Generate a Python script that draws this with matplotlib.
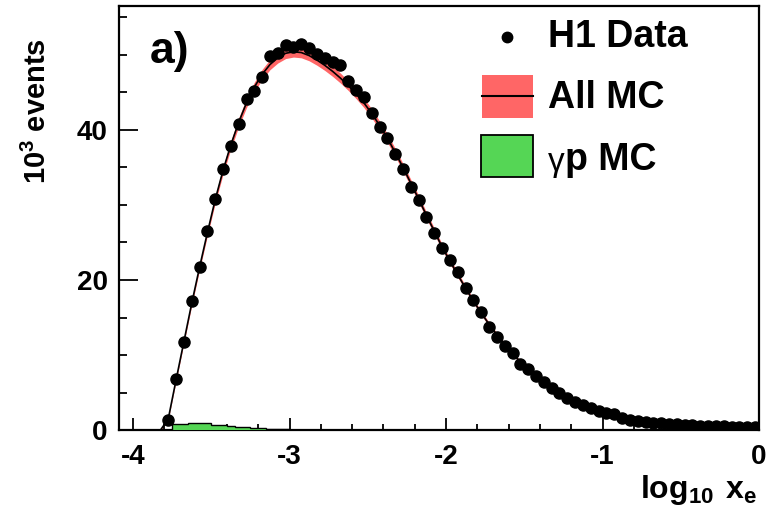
import matplotlib
matplotlib.use("Agg")
import matplotlib.pyplot as plt
import numpy as np
from matplotlib.patches import Rectangle
from matplotlib.ticker import MultipleLocator

plt.rcParams["font.family"] = ["Liberation Sans", "DejaVu Sans"]
plt.rcParams["font.weight"] = "bold"
plt.rcParams["mathtext.fontset"] = "custom"
plt.rcParams["mathtext.rm"] = "Liberation Sans"
plt.rcParams["mathtext.bf"] = "Liberation Sans:bold"
plt.rcParams["mathtext.default"] = "regular"

# binning of log10(x_e): 0.05 wide bins from -3.8 to 0
bin_lo, bin_w, n_bins = -3.8, 0.05, 76

# H1 data, 10^3 events per bin
data_y = [1.4, 6.8, 11.7, 17.2, 21.7, 26.5, 30.8, 34.8, 37.9, 40.8,
          44.1, 45.2, 47.1, 49.8, 50.2, 51.3, 51.1, 51.5, 50.9, 50.1,
          49.6, 49.0, 48.7, 46.5, 45.3, 44.4, 42.2, 40.4, 38.9, 36.8,
          34.8, 32.4, 30.7, 28.4, 26.3, 24.2, 22.7, 21.0, 18.9, 17.3,
          15.7, 13.7, 12.4, 11.2, 10.3, 8.8, 8.2, 7.2, 6.4, 5.6,
          4.9, 4.3, 3.8, 3.3, 2.9, 2.6, 2.3, 2.1, 1.6, 1.4,
          1.2, 1.1, 1.0, 0.9, 0.8, 0.75, 0.7, 0.65, 0.6, 0.55,
          0.5, 0.5, 0.45, 0.45, 0.4, 0.4]

# all MC prediction, same bins
mc_y = [1.5, 6.7, 11.8, 16.9, 21.7, 26.3, 30.7, 34.6, 38.0, 41.0,
        43.6, 45.7, 47.4, 48.7, 49.6, 50.2, 50.4, 50.3, 49.9, 49.3,
        48.6, 47.8, 46.9, 45.9, 44.8, 43.6, 42.2, 40.6, 38.9, 37.0,
        35.0, 32.9, 30.8, 28.6, 26.5, 24.4, 22.5, 20.7, 18.9, 17.2,
        15.6, 14.1, 12.7, 11.4, 10.2, 9.1, 8.1, 7.2, 6.4, 5.6,
        4.9, 4.3, 3.8, 3.3, 2.9, 2.55, 2.25, 2.0, 1.75, 1.55,
        1.35, 1.2, 1.05, 0.95, 0.85, 0.78, 0.7, 0.64, 0.6, 0.55,
        0.52, 0.49, 0.46, 0.44, 0.42, 0.4]
mc_rel_err = 0.012

# photoproduction background MC
gp_lo = -3.75
gp_y = [0.75, 0.8, 0.95, 0.97, 0.97, 0.7, 0.67, 0.58, 0.45, 0.44,
        0.35, 0.25, 0.2, 0.13, 0.1, 0.06, 0.04, 0.03, 0.02]

RED = "#ff6666"
GREEN = "#55d655"

x = bin_lo + bin_w * (np.arange(n_bins) + 0.5)
mc = np.array(mc_y)
mc_x = np.concatenate([[bin_lo - 0.025], x])
mc_line = np.concatenate([[0.0], mc])
err = mc_rel_err * mc_line + 0.1
gp_edges = gp_lo + bin_w * np.arange(len(gp_y) + 1)

fig = plt.figure(figsize=(7.69, 5.22), dpi=100)
ax = fig.add_axes([0.1547, 0.176, 0.8323, 0.8125])

ax.fill_between(mc_x, mc_line - err, mc_line + err, color=RED, lw=0, zorder=1)
ax.plot(mc_x, mc_line, color="black", lw=1.2, zorder=2)
ax.stairs(gp_y, gp_edges, fill=True, color=GREEN, zorder=3)
ax.stairs(gp_y, gp_edges, color="black", lw=1.0, zorder=3)
ax.plot(x, data_y, "o", color="black", ms=8, zorder=4)

ax.set_xlim(-4.09, 0.0)
ax.set_ylim(0, 56.5)
ax.xaxis.set_major_locator(MultipleLocator(1))
ax.xaxis.set_minor_locator(MultipleLocator(0.2))
ax.yaxis.set_major_locator(MultipleLocator(20))
ax.yaxis.set_minor_locator(MultipleLocator(5))
ax.tick_params(which="both", direction="in", width=1.3, labelsize=20)
ax.tick_params(axis="x", which="major", length=9, pad=10)
ax.tick_params(axis="x", which="minor", length=4)
ax.tick_params(axis="y", which="major", length=14, pad=8)
ax.tick_params(axis="y", which="minor", length=6)
ax.set_xticks([-4, -3, -2, -1, 0])
ax.set_xticklabels(["-4", "-3", "-2", "-1", "0"])
for sp in ax.spines.values():
    sp.set_linewidth(1.6)

ax.text(-0.127, 0.925, r"10$^{\mathbf{3}}$ events", transform=ax.transAxes,
        rotation=90, ha="center", va="top", fontsize=21)
ax.text(0.997, -0.1, r"$\mathbf{log_{10}\ x_e}$", transform=ax.transAxes,
        ha="right", va="top", fontsize=23)
ax.text(0.048, 0.865, "a)", transform=ax.transAxes, ha="left", va="baseline",
        fontsize=32)

# legend
ax.plot([0.606], [0.927], "o", color="black", ms=7.5, transform=ax.transAxes,
        clip_on=False)
ax.text(0.670, 0.927, "H1 Data", transform=ax.transAxes, ha="left",
        va="center", fontsize=27)
ax.add_patch(Rectangle((0.567, 0.736), 0.08, 0.101, transform=ax.transAxes,
                       facecolor=RED, edgecolor="none"))
ax.plot([0.567, 0.647], [0.787, 0.787], color="black", lw=1.5,
        transform=ax.transAxes)
ax.text(0.670, 0.783, "All MC", transform=ax.transAxes, ha="left",
        va="center", fontsize=27)
ax.add_patch(Rectangle((0.566, 0.597), 0.081, 0.099, transform=ax.transAxes,
                       facecolor=GREEN, edgecolor="black", lw=1.3))
ax.text(0.670, 0.630, "γ", transform=ax.transAxes, ha="left", va="center",
        fontsize=24, fontweight="normal")
ax.text(0.697, 0.637, "p MC", transform=ax.transAxes, ha="left",
        va="center", fontsize=27)

fig.savefig("out.png", dpi=100)
